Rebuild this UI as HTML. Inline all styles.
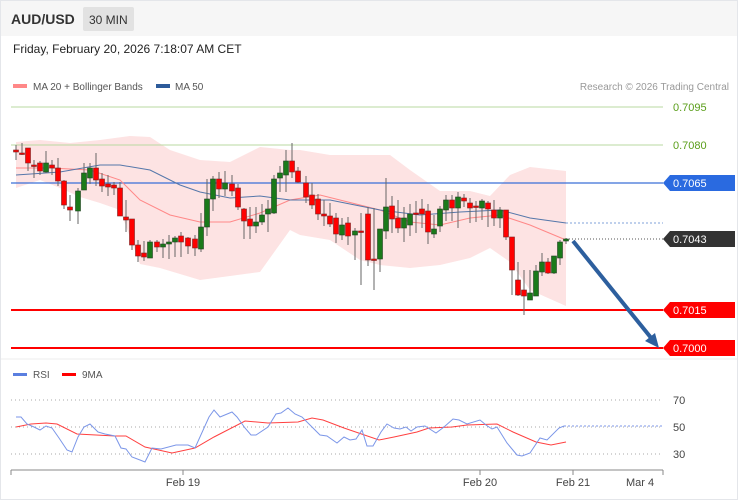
<!DOCTYPE html>
<html><head><meta charset="utf-8"><style>
body{margin:0;background:#fff;font-family:"Liberation Sans",sans-serif;}
svg{display:block}
</style></head><body>
<svg width="738" height="500" xmlns="http://www.w3.org/2000/svg" font-family="Liberation Sans, sans-serif">
<rect x="0.5" y="0.5" width="737" height="499" fill="#fff" stroke="#e4e6ea"/>
<rect x="1" y="1" width="736" height="35" fill="#f6f6f6"/>
<text x="11" y="24" font-size="14" font-weight="bold" fill="#333">AUD/USD</text>
<rect x="83" y="7" width="51" height="24" fill="#e2e2e2" rx="2"/>
<text x="89" y="24" font-size="12" fill="#333">30 MIN</text>
<text x="13" y="53" font-size="12" fill="#222">Friday, February 20, 2026 7:18:07 AM CET</text>
<rect x="13" y="84" width="14" height="4" fill="#f88"/>
<text x="33" y="90" font-size="10" fill="#555">MA 20 + Bollinger Bands</text>
<rect x="156" y="84" width="14" height="4" fill="#2d5b9a"/>
<text x="175" y="90" font-size="10" fill="#555">MA 50</text>
<text x="729" y="90" font-size="10" fill="#999" text-anchor="end">Research © 2026 Trading Central</text>

<polygon fill="#fde3e3" points="16,142 40,140 70,143 100,140 130,136 150,137 170,150 200,160 230,162 260,147 290,150 300,150 330,155 360,155 390,155 410,170 440,191 470,191 490,196 510,175 530,167 566,171 566,306 530,290 510,262 490,248 470,258 440,265 410,268 380,265 360,260 330,240 300,235 290,230 260,272 230,276 200,280 180,274 160,268 140,264 120,210 100,203 80,197 60,188 40,180 16,188"/>

<line x1="11" y1="107" x2="663" y2="107" stroke="#b9d9a0" stroke-width="1"/>
<line x1="11" y1="145" x2="663" y2="145" stroke="#b9d9a0" stroke-width="1"/>
<line x1="11" y1="183" x2="663" y2="183" stroke="#3a6fd8" stroke-width="1.3"/>
<line x1="566" y1="239" x2="663" y2="239" stroke="#555" stroke-dasharray="1,2"/>
<line x1="566" y1="223" x2="663" y2="223" stroke="#7fa0d8" stroke-dasharray="2,2"/>
<line x1="11" y1="310" x2="663" y2="310" stroke="#f00" stroke-width="2"/>
<line x1="11" y1="348" x2="663" y2="348" stroke="#f00" stroke-width="2"/>

<polyline fill="none" stroke="#f88" stroke-width="1" points="16,168 50,168 90,170 120,180 140,200 170,215 200,222 230,222 260,213 290,200 320,195 360,205 380,210 410,222 440,225 470,218 500,215 530,225 566,240"/>
<polyline fill="none" stroke="#5577aa" stroke-width="1" points="16,175 60,172 100,165 120,165 150,170 180,185 200,192 230,198 260,196 290,200 330,200 380,210 420,215 460,212 500,210 530,218 566,223"/>

<path fill="none" stroke="#666" stroke-width="1" d="M16 145V160M22 143V155M28 148V171M34 160V178M40 161V175M46 151V173M52 160V175M58 158V186M64 180V209M70 195V221M78 188V224M84 163V190M90 163V184M96 153V186M102 173V192M108 175V196M114 182V195M120 182V216M126 200V232M132 219V250M138 240V262M144 241V261M150 240V258M157 240V252M163 239V258M169 235V259M175 236V257M181 232V257M188 237V254M195 235V256M201 213V252M207 179V236M213 176V211M219 172V198M225 171V196M232 175V196M238 184V210M244 208V239M250 207V239M256 207V233M262 204V225M268 200V232M274 175V214M280 166V192M286 150V192M292 143V178M298 167V183M306 176V203M312 183V209M318 194V220M324 200V226M330 203V227M336 213V243M342 218V240M348 217V245M355 228V260M361 213V285M368 207V266M374 208V290M380 229V272M386 178V239M392 196V233M398 200V233M404 207V242M410 204V236M416 201V233M422 199V228M428 204V244M434 215V238M440 206V232M446 195V221M452 195V221M458 192V228M464 194V207M470 198V223M476 201V222M482 199V220M488 201V227M494 200V226M500 207V228M506 210V240M512 237V295M518 262V296M524 270V315M530 270V300M536 265V296M542 253V276M548 258V274M554 256V274M560 240V265M566 238V244"/>
<g fill="#f00" stroke="#7a2020" stroke-width="0.6">
<rect x="13.5" y="150" width="5" height="2"/><rect x="19.5" y="153" width="5" height="1.5"/><rect x="25.5" y="148" width="5" height="15"/><rect x="31.5" y="165" width="5" height="1.5"/><rect x="37.5" y="163" width="5" height="8"/><rect x="49.5" y="165" width="5" height="3"/><rect x="55.5" y="168" width="5" height="13"/><rect x="61.5" y="181" width="5" height="24"/><rect x="67.5" y="207" width="5" height="3"/><rect x="93.5" y="168" width="5" height="12"/><rect x="99.5" y="179" width="5" height="7"/><rect x="105.5" y="184" width="5" height="3"/><rect x="111.5" y="185" width="5" height="3"/><rect x="117.5" y="188" width="5" height="28"/><rect x="123.5" y="217" width="5" height="3"/><rect x="129.5" y="219" width="5" height="26"/><rect x="135.5" y="245" width="5" height="11"/><rect x="141.5" y="253" width="5" height="4"/><rect x="154.5" y="242" width="5" height="5"/><rect x="178.5" y="236" width="5" height="6"/><rect x="185.5" y="238" width="5" height="8"/><rect x="192.5" y="239" width="5" height="9"/><rect x="216.5" y="179" width="5" height="10"/><rect x="229.5" y="184" width="5" height="7"/><rect x="235.5" y="188" width="5" height="19"/><rect x="241.5" y="209" width="5" height="12"/><rect x="247.5" y="219" width="5" height="7"/><rect x="289.5" y="161" width="5" height="11"/><rect x="295.5" y="171" width="5" height="11"/><rect x="303.5" y="183" width="5" height="14"/><rect x="309.5" y="195" width="5" height="10"/><rect x="315.5" y="199" width="5" height="15"/><rect x="321.5" y="214" width="5" height="2"/><rect x="327.5" y="216" width="5" height="8"/><rect x="333.5" y="218" width="5" height="16"/><rect x="345.5" y="223" width="5" height="13"/><rect x="358.5" y="231" width="5" height="1.5"/><rect x="365.5" y="214" width="5" height="46"/><rect x="371.5" y="259" width="5" height="1.5"/><rect x="389.5" y="206" width="5" height="13"/><rect x="395.5" y="218" width="5" height="10"/><rect x="413.5" y="213" width="5" height="1.5"/><rect x="419.5" y="209" width="5" height="5"/><rect x="425.5" y="211" width="5" height="21"/><rect x="449.5" y="200" width="5" height="8"/><rect x="461.5" y="198" width="5" height="3"/><rect x="467.5" y="203" width="5" height="5"/><rect x="473.5" y="206" width="5" height="1.5"/><rect x="485.5" y="203" width="5" height="6"/><rect x="491.5" y="210" width="5" height="8"/><rect x="503.5" y="210" width="5" height="27"/><rect x="509.5" y="237" width="5" height="33"/><rect x="515.5" y="280" width="5" height="15"/><rect x="521.5" y="290" width="5" height="6"/><rect x="545.5" y="262" width="5" height="11"/>
</g>
<g fill="#1a7a1a" stroke="#204020" stroke-width="0.6">
<rect x="43.5" y="163" width="5" height="9"/><rect x="75.5" y="191" width="5" height="20"/><rect x="81.5" y="173" width="5" height="17"/><rect x="87.5" y="168" width="5" height="10"/><rect x="147.5" y="242" width="5" height="16"/><rect x="160.5" y="244" width="5" height="3"/><rect x="166.5" y="242" width="5" height="2"/><rect x="172.5" y="238" width="5" height="4"/><rect x="198.5" y="227" width="5" height="22"/><rect x="204.5" y="199" width="5" height="28"/><rect x="210.5" y="179" width="5" height="20"/><rect x="222.5" y="183" width="5" height="6"/><rect x="253.5" y="222" width="5" height="4"/><rect x="259.5" y="215" width="5" height="7"/><rect x="265.5" y="209" width="5" height="5"/><rect x="271.5" y="179" width="5" height="34"/><rect x="277.5" y="173" width="5" height="5"/><rect x="283.5" y="161" width="5" height="14"/><rect x="339.5" y="225" width="5" height="10"/><rect x="352.5" y="231" width="5" height="4"/><rect x="377.5" y="229" width="5" height="30"/><rect x="383.5" y="207" width="5" height="24"/><rect x="401.5" y="218" width="5" height="10"/><rect x="407.5" y="214" width="5" height="11"/><rect x="431.5" y="229" width="5" height="5"/><rect x="437.5" y="209" width="5" height="17"/><rect x="443.5" y="200" width="5" height="10"/><rect x="455.5" y="197" width="5" height="11"/><rect x="479.5" y="201" width="5" height="7"/><rect x="497.5" y="210" width="5" height="8"/><rect x="527.5" y="293" width="5" height="7"/><rect x="533.5" y="271" width="5" height="25"/><rect x="539.5" y="262" width="5" height="10"/><rect x="551.5" y="256" width="5" height="17"/><rect x="557.5" y="242" width="5" height="16"/><rect x="563.5" y="239" width="5" height="2"/>
</g>

<line x1="573" y1="241" x2="652" y2="339" stroke="#2d5f9e" stroke-width="4"/>
<polygon points="659,348 645,341 655,333" fill="#2d5f9e"/>

<text x="673" y="111" font-size="11" fill="#5a9e1a">0.7095</text>
<text x="673" y="149" font-size="11" fill="#5a9e1a">0.7080</text>
<polygon points="663,183 670,175 735,175 735,191 670,191" fill="#2a6ae0"/>
<text x="673" y="187" font-size="11" fill="#fff">0.7065</text>
<polygon points="663,239 670,231 735,231 735,247 670,247" fill="#333"/>
<text x="673" y="243" font-size="11" fill="#fff">0.7043</text>
<polygon points="663,310 670,302 735,302 735,318 670,318" fill="#f00"/>
<text x="673" y="314" font-size="11" fill="#fff">0.7015</text>
<polygon points="663,348 670,340 735,340 735,356 670,356" fill="#f00"/>
<text x="673" y="352" font-size="11" fill="#fff">0.7000</text>

<line x1="1" y1="359" x2="737" y2="359" stroke="#eee"/>
<rect x="13" y="373" width="14" height="3" fill="#5a7fe0"/>
<text x="33" y="378" font-size="10" fill="#555">RSI</text>
<rect x="62" y="373" width="14" height="3" fill="#f00"/>
<text x="82" y="378" font-size="10" fill="#555">9MA</text>
<g stroke="#aaa" stroke-dasharray="1,3">
<line x1="11" y1="400" x2="663" y2="400"/><line x1="11" y1="427" x2="663" y2="427"/><line x1="11" y1="454" x2="663" y2="454"/></g>
<text x="673" y="404" font-size="11" fill="#444">70</text>
<text x="673" y="431" font-size="11" fill="#444">50</text>
<text x="673" y="458" font-size="11" fill="#444">30</text>
<polyline fill="none" stroke="#f00" stroke-width="1" opacity="0.75" points="16,427 31,424 46,423 57,424 77,434 115,436 126,436 145,447 172,453 195,448 214,437 245,421 268,423 298,422 312,418 323,420 344,428 379,440 394,437 417,432 429,428 452,427 467,425 497,424 513,432 536,442 551,445 566,442"/>
<polyline fill="none" stroke="#7b96e8" stroke-width="1" points="16,417 21,417 27,424 34,427 40,430 46,426 52,428 59,438 67,450 72,452 78,437 84,427 90,424 98,432 105,434 115,436 121,448 126,449 132,457 140,460 145,462 152,448 161,449 176,445 188,445 195,448 209,417 214,410 220,417 232,412 237,417 245,428 251,435 256,435 268,427 276,414 281,413 288,408 295,414 302,417 312,427 320,435 327,436 337,443 344,437 350,440 356,439 362,430 367,446 373,446 381,432 387,424 394,428 400,429 406,427 411,431 417,427 425,426 436,433 444,427 453,419 459,420 467,424 480,420 486,425 492,429 497,427 507,443 517,455 522,456 530,453 540,438 547,440 559,428 564,426"/>
<line x1="564" y1="426" x2="663" y2="426" stroke="#7b96e8" stroke-dasharray="2,2"/>

<line x1="11" y1="470" x2="663" y2="470" stroke="#888"/>
<g stroke="#888"><line x1="11" y1="470" x2="11" y2="475"/><line x1="183" y1="470" x2="183" y2="475"/><line x1="480" y1="470" x2="480" y2="475"/><line x1="573" y1="470" x2="573" y2="475"/><line x1="663" y1="470" x2="663" y2="475"/></g>
<text x="183" y="486" font-size="11" fill="#444" text-anchor="middle">Feb 19</text>
<text x="480" y="486" font-size="11" fill="#444" text-anchor="middle">Feb 20</text>
<text x="573" y="486" font-size="11" fill="#444" text-anchor="middle">Feb 21</text>
<text x="640" y="486" font-size="11" fill="#444" text-anchor="middle">Mar 4</text>
</svg>
</body></html>
